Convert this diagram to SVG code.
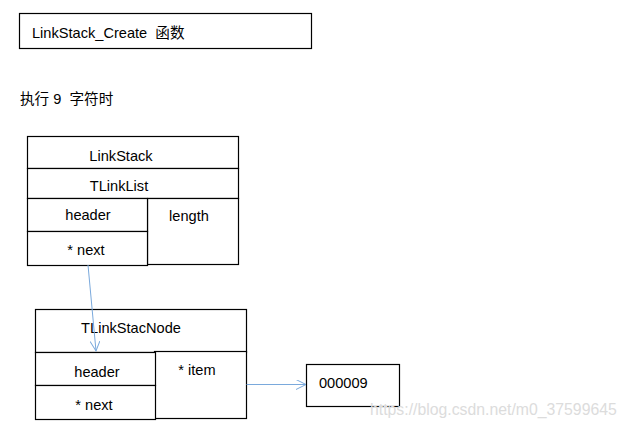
<svg xmlns="http://www.w3.org/2000/svg" width="626" height="428" viewBox="0 0 626 428">
<defs>
<style>
.b{fill:#fff;stroke:#000;stroke-width:1.2}
.t{font-family:"Liberation Sans","Noto Sans CJK SC",sans-serif;font-size:14.6px;fill:#000;white-space:pre}
.c{text-anchor:middle}
.l{stroke:#7aa9dc;stroke-width:1;fill:none}
</style>
<marker id="a" markerWidth="12" markerHeight="12" refX="10" refY="5" orient="auto" markerUnits="userSpaceOnUse">
<path d="M0,0 L10,5 L0,10" fill="none" stroke="#7aa9dc" stroke-width="1"/>
</marker>
</defs>
<rect width="626" height="428" fill="#fff"/>
<g id="title">
<rect class="b" x="19.5" y="13.5" width="292" height="35"/>
<text class="t" x="32" y="38" xml:space="preserve">LinkStack_Create  函数</text>
</g>
<text class="t" x="20" y="104" xml:space="preserve">执行 9  字符时</text>
<g id="linkstack">
<rect class="b" x="27.5" y="136.5" width="211" height="32"/>
<text class="t c" x="121" y="161">LinkStack</text>
<rect class="b" x="27.5" y="168.5" width="211" height="30"/>
<text class="t c" x="119" y="191">TLinkList</text>
<rect class="b" x="147.5" y="198.5" width="91" height="66"/>
<text class="t c" x="189" y="221">length</text>
<rect class="b" x="27.5" y="198.5" width="120" height="33"/>
<text class="t c" x="88" y="220">header</text>
<rect class="b" x="27.5" y="231.5" width="120" height="34"/>
<text class="t c" x="86" y="255">* next</text>
</g>
<g id="node">
<rect class="b" x="35.5" y="309.5" width="211" height="43"/>
<text class="t c" x="131" y="333">TLinkStacNode</text>
<rect class="b" x="154.5" y="351.5" width="92" height="67"/>
<text class="t c" x="197" y="375">* item</text>
<rect class="b" x="35.5" y="352.5" width="120" height="33"/>
<text class="t c" x="97" y="377">header</text>
<rect class="b" x="35.5" y="385.5" width="120" height="34"/>
<text class="t c" x="94" y="410">* next</text>
</g>
<g id="value">
<rect class="b" x="306.5" y="364.5" width="93" height="42"/>
<text class="t" x="319" y="388">000009</text>
</g>
<g id="connectors">
<path class="l" d="M88,265 L96,351" marker-end="url(#a)"/>
<path class="l" d="M246.5,384.5 L306,384.5" marker-end="url(#a)"/>
</g>
<text x="370" y="415" style="font-family:'Liberation Sans',sans-serif;font-size:15.8px;fill:#dcdcdc">https://blog.csdn.net/m0_37599645</text>
</svg>
